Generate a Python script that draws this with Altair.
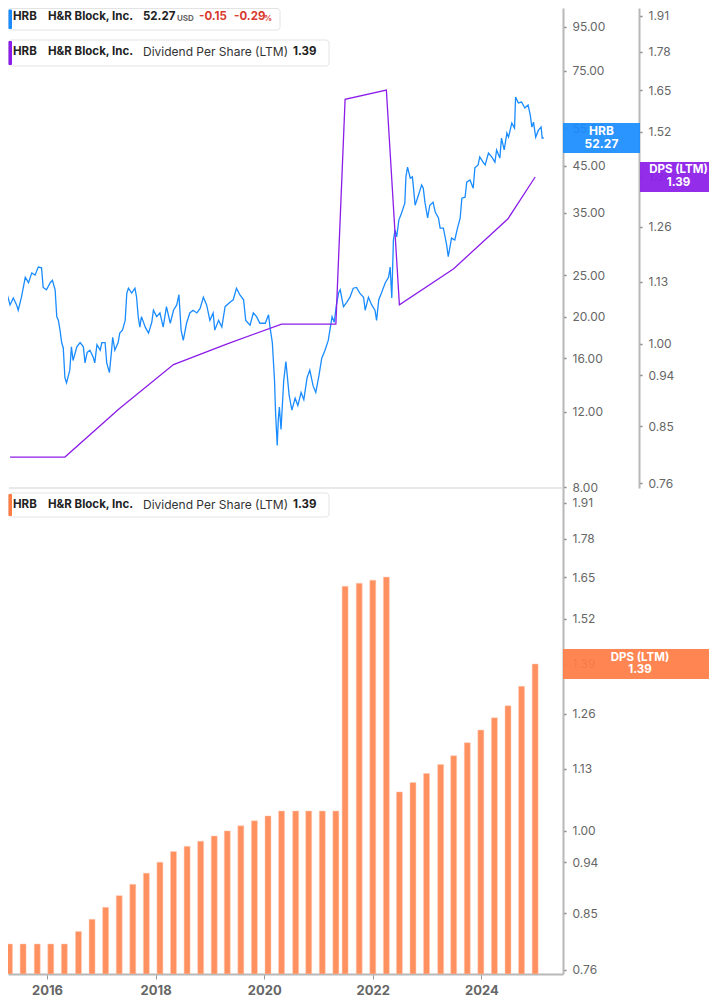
import altair as alt
import pandas as pd

# ---------------- data ----------------
price_t = [2015.13, 2015.20, 2015.26, 2015.32, 2015.38, 2015.44, 2015.47, 2015.53, 2015.60, 2015.66,
           2015.72, 2015.78, 2015.84, 2015.90, 2015.93, 2015.99, 2016.06, 2016.10, 2016.15, 2016.18,
           2016.21, 2016.24, 2016.27, 2016.30, 2016.33, 2016.36, 2016.42, 2016.45, 2016.48, 2016.55,
           2016.61, 2016.67, 2016.70, 2016.74, 2016.79, 2016.85, 2016.88, 2016.92, 2016.98, 2017.01,
           2017.07, 2017.10, 2017.15, 2017.19, 2017.21, 2017.25, 2017.31, 2017.34, 2017.39, 2017.44,
           2017.47, 2017.50, 2017.56, 2017.62, 2017.65, 2017.68, 2017.71, 2017.74, 2017.81, 2017.87,
           2017.93, 2017.96, 2018.02, 2018.08, 2018.14, 2018.20, 2018.27, 2018.33, 2018.39, 2018.43,
           2018.47, 2018.51, 2018.57, 2018.63, 2018.69, 2018.76, 2018.82, 2018.88, 2018.94, 2019.00,
           2019.06, 2019.09, 2019.16, 2019.22, 2019.28, 2019.37, 2019.43, 2019.49, 2019.55, 2019.62,
           2019.66, 2019.74, 2019.80, 2019.86, 2019.92, 2020.02, 2020.08, 2020.11, 2020.15, 2020.19,
           2020.21, 2020.24, 2020.26, 2020.28, 2020.31, 2020.36, 2020.40, 2020.46, 2020.51, 2020.57,
           2020.62, 2020.68, 2020.73, 2020.79, 2020.84, 2020.90, 2020.95, 2021.01, 2021.06, 2021.12,
           2021.18, 2021.21, 2021.25, 2021.29, 2021.33, 2021.37, 2021.40, 2021.46, 2021.52, 2021.58,
           2021.64, 2021.70, 2021.76, 2021.83, 2021.86, 2021.92, 2021.98, 2022.04, 2022.07, 2022.11,
           2022.16, 2022.23, 2022.29, 2022.32, 2022.35, 2022.38, 2022.41, 2022.44, 2022.48, 2022.53,
           2022.59, 2022.61, 2022.64, 2022.69, 2022.73, 2022.78, 2022.84, 2022.90, 2022.93, 2022.96,
           2023.01, 2023.05, 2023.11, 2023.15, 2023.21, 2023.24, 2023.30, 2023.36, 2023.39, 2023.45,
           2023.51, 2023.56, 2023.61, 2023.64, 2023.70, 2023.73, 2023.79, 2023.85, 2023.88, 2023.94,
           2023.97, 2024.04, 2024.07, 2024.13, 2024.19, 2024.25, 2024.28, 2024.34, 2024.37, 2024.42,
           2024.47, 2024.50, 2024.56, 2024.61, 2024.63, 2024.68, 2024.74, 2024.80, 2024.86, 2024.90,
           2024.93, 2024.96, 2025.00, 2025.05, 2025.10, 2025.12, 2025.15]
price_v = [24.0, 22.1, 22.7, 21.3, 22.1, 21.3, 20.7, 22.2, 24.7, 24.0,
           25.3, 25.0, 26.1, 26.0, 23.4, 23.1, 24.0, 24.3, 23.1, 20.0,
           19.6, 18.6, 17.4, 16.9, 14.4, 14.0, 15.0, 17.0, 15.8, 17.0,
           17.4, 17.0, 15.6, 16.5, 16.7, 16.1, 15.6, 17.2, 16.7, 17.4,
           17.4, 15.6, 14.8, 16.7, 17.9, 16.7, 17.4, 18.3, 18.6, 19.6,
           22.7, 23.3, 22.7, 23.3, 22.2, 20.0, 18.9, 20.0, 18.9, 18.3,
           19.4, 20.7, 20.0, 20.4, 18.9, 21.1, 19.3, 20.7, 21.3, 22.5,
           18.6, 17.6, 19.3, 20.4, 20.7, 20.4, 20.9, 22.2, 21.3, 19.6,
           20.4, 18.6, 19.6, 18.9, 21.1, 21.6, 21.9, 23.3, 22.5, 21.9,
           19.6, 19.1, 20.4, 20.0, 19.3, 19.3, 20.2, 18.8, 17.4, 14.2,
           11.9, 10.0, 11.5, 12.3, 10.9, 14.2, 15.7, 13.1, 12.1, 12.9,
           12.4, 13.3, 12.8, 14.4, 15.0, 13.8, 13.3, 14.6, 16.0, 16.7,
           17.6, 18.6, 20.0, 19.4, 21.3, 22.7, 23.1, 21.1, 21.6, 22.2,
           23.3, 23.4, 22.7, 22.2, 20.7, 22.2, 21.3, 20.7, 19.6, 21.9,
           22.7, 24.0, 24.7, 26.1, 22.1, 30.2, 31.9, 30.7, 33.6, 34.9,
           36.8, 42.4, 44.7, 42.1, 42.4, 36.4, 38.4, 40.6, 39.9, 37.0,
           34.0, 36.4, 37.0, 35.1, 34.0, 32.2, 32.2, 29.4, 27.6, 30.5,
           30.2, 32.2, 34.0, 37.8, 38.0, 41.2, 41.7, 39.9, 44.5, 45.2,
           47.2, 45.7, 45.2, 48.2, 47.2, 45.9, 49.0, 46.9, 52.2, 49.0,
           53.7, 52.5, 56.6, 55.1, 65.1, 63.1, 63.4, 61.4, 62.4, 59.1,
           55.4, 56.9, 52.5, 54.5, 55.4, 52.2, 52.27]

dps_t = [2015.32, 2016.33, 2017.33, 2018.33, 2019.32, 2020.32, 2021.32, 2021.49,
         2022.25, 2022.49, 2023.49, 2024.49, 2024.99]
dps_v = [0.80, 0.80, 0.88, 0.96, 1.00, 1.04, 1.04, 1.62, 1.65, 1.08, 1.16, 1.28, 1.39]

bar_t = [2015.31, 2015.56, 2015.82, 2016.07, 2016.32, 2016.58, 2016.83, 2017.08, 2017.33, 2017.58,
         2017.83, 2018.08, 2018.33, 2018.58, 2018.83, 2019.08, 2019.32, 2019.57, 2019.82, 2020.07,
         2020.32, 2020.58, 2020.82, 2021.07, 2021.32, 2021.49, 2021.75, 2022.00, 2022.25, 2022.49,
         2022.74, 2022.99, 2023.25, 2023.49, 2023.74, 2023.99, 2024.24, 2024.49, 2024.74, 2024.99]
bar_v = [0.80, 0.80, 0.80, 0.80, 0.80, 0.82, 0.84, 0.86, 0.88, 0.90,
         0.92, 0.94, 0.96, 0.97, 0.98, 0.99, 1.00, 1.01, 1.02, 1.03,
         1.04, 1.04, 1.04, 1.04, 1.04, 1.62, 1.63, 1.64, 1.65, 1.08,
         1.10, 1.12, 1.14, 1.16, 1.19, 1.22, 1.25, 1.28, 1.33, 1.39]

year_ticks = [2016, 2018, 2020, 2022, 2024]
price_ticks = [8, 12, 16, 20, 25, 35, 45, 55, 75, 95]
dps_ticks = [0.76, 0.85, 0.94, 1.00, 1.13, 1.26, 1.39, 1.52, 1.65, 1.78, 1.91]

ticker = "HRB"
company = "H&R Block, Inc."
metric = "Dividend Per Share (LTM)"
metric_short = "DPS (LTM)"
currency = "USD"
change_abs = "-0.15"
change_pct = "-0.29"

# ---------------- layout / style ----------------
W = 555
H_TOP = 480
H_BOT = 486
X_DOMAIN = [2015.282, 2025.503]
PRICE_DOMAIN = [7.96, 105.1]
DPS_TOP_DOMAIN = [0.7526, 1.940]
DPS_BOT_DOMAIN = [0.754, 1.967]

BLUE = "#1a8cff"
PURPLE = "#8c1de8"
BAR = "#ff9060"
BAR_EDGE = "#ffcdb6"
ORANGE_BOX = "#ff7d45"
RED = "#d93a2f"
DARK = "#222222"
AXIS_GREY = "#b8b8b8"
LABEL_GREY = "#666666"
FONT = "Inter"

xs = alt.Scale(domain=X_DOMAIN, nice=False, zero=False, padding=0)
price_scale = alt.Scale(type="log", domain=PRICE_DOMAIN, nice=False)
dps_top_scale = alt.Scale(type="log", domain=DPS_TOP_DOMAIN, nice=False)
dps_bot_scale = alt.Scale(type="log", domain=DPS_BOT_DOMAIN, nice=False)


def yaxis(values, offset=0):
    return alt.Axis(orient="right", values=values, format=".2f", offset=offset,
                    tickSize=3, tickWidth=1.5, tickColor="#888888",
                    domainColor=AXIS_GREY, domainWidth=2,
                    labelColor=LABEL_GREY, labelFontSize=12, labelFont=FONT,
                    labelPadding=6, grid=False, title=None)


PRICE_AXIS = yaxis(price_ticks)
DPS_TOP_AXIS = yaxis(dps_ticks, offset=76)
DPS_BOT_AXIS = yaxis(dps_ticks)

x_axis = alt.Axis(values=year_ticks, format="d", tickSize=5, tickColor="#999999",
                  domainColor=AXIS_GREY, domainWidth=2, labelColor=LABEL_GREY,
                  labelFontSize=13, labelFontWeight="bold", labelFont=FONT,
                  labelPadding=5, labelFlush=False, grid=False, title=None)

ONE = pd.DataFrame({"k": [0]})


def txt(s, x, y, size=11.5, weight="bold", color=DARK):
    return alt.Chart(ONE).mark_text(text=s, align="left", baseline="middle", fontSize=size,
                                    fontWeight=weight, color=color, font=FONT).encode(
        x=alt.value(x), y=alt.value(y))


def box(x1, x2, y1, y2, bar_color):
    frame = alt.Chart(ONE).mark_rect(fill="white", stroke="#e3e3e3", strokeWidth=1,
                                     cornerRadius=3).encode(
        x=alt.value(x1), x2=alt.value(x2), y=alt.value(y1), y2=alt.value(y2))
    stripe = alt.Chart(ONE).mark_rect(fill=bar_color, cornerRadius=1).encode(
        x=alt.value(x1), x2=alt.value(x1 + 3.5), y=alt.value(y1 + 1), y2=alt.value(y2 - 1))
    return [frame, stripe]


def rect_path(left, right, half_h):
    return f"M{left},{-half_h}L{right},{-half_h}L{right},{half_h}L{left},{half_h}Z"


def marker(df, scale, axis, cx, path, size, color, line1, dy1, dy2, fsize=11.5):
    y_enc = alt.Y("v:Q", scale=scale, axis=axis)
    shape = alt.Chart(df).mark_point(shape=path, size=size, filled=True, color=color,
                                     opacity=0.93, strokeWidth=0).encode(
        x=alt.value(cx), y=y_enc)
    t1 = alt.Chart(df).mark_text(text=line1, color="white", fontWeight="bold", fontSize=fsize,
                                 font=FONT, dy=dy1).encode(x=alt.value(cx), y=y_enc)
    t2 = alt.Chart(df).mark_text(color="white", fontWeight="bold", fontSize=fsize,
                                 font=FONT, dy=dy2).encode(
        x=alt.value(cx), y=y_enc, text=alt.Text("v:Q", format=".2f"))
    return [shape, t1, t2]


price_df = pd.DataFrame({"t": price_t, "p": price_v})
dps_df = pd.DataFrame({"t": dps_t, "d": dps_v})
bar_df = pd.DataFrame({"t": bar_t, "d": bar_v})
last_price = pd.DataFrame({"v": [price_v[-1]]})
last_dps = pd.DataFrame({"v": [bar_v[-1]]})

# ---------------- top panel ----------------
price_line = alt.Chart(price_df).mark_line(color=BLUE, strokeWidth=1.3, clip=True).encode(
    x=alt.X("t:Q", scale=xs, axis=None),
    y=alt.Y("p:Q", scale=price_scale, axis=PRICE_AXIS))
price_layer = alt.layer(price_line, *marker(last_price, price_scale, PRICE_AXIS, 593.5,
                                            rect_path(-1, 1, 0.3896), 5929, BLUE,
                                            ticker, -7, 6, fsize=12))

dps_line = alt.Chart(dps_df).mark_line(color=PURPLE, strokeWidth=1.3, clip=True).encode(
    x=alt.X("t:Q", scale=xs, axis=None),
    y=alt.Y("d:Q", scale=dps_top_scale, axis=DPS_TOP_AXIS))
dps_layer = alt.layer(dps_line, *marker(last_dps, dps_top_scale, DPS_TOP_AXIS, 670.5,
                                        rect_path(-1, 0.792, 0.3896), 5929, PURPLE,
                                        metric_short, -6.5, 6.5))

sep = alt.Chart(ONE).mark_rule(color="#e2e2e2", strokeWidth=1.5).encode(
    x=alt.value(1), x2=alt.value(W), y=alt.value(H_TOP))

legend_top = (box(0.5, 272, 0.5, 22, BLUE)
              + [txt(ticker, 5, 9), txt(company, 40, 9), txt(f"{price_v[-1]:.2f}", 135, 9),
                 txt(currency, 169, 11, size=8, color="#666666"),
                 txt(change_abs, 191, 9, color=RED), txt(change_pct, 226, 9, color=RED),
                 txt("%", 256, 11, size=8, color=RED)]
              + box(0.5, 321, 32, 58, PURPLE)
              + [txt(ticker, 5, 44), txt(company, 40, 44),
                 txt(metric, 135, 44, size=12, weight="normal", color="#333333"),
                 txt(f"{dps_v[-1]:.2f}", 285, 44)])

top = alt.layer(price_layer, dps_layer, sep, *legend_top).resolve_scale(
    y="independent").properties(width=W, height=H_TOP)

# ---------------- bottom panel ----------------
bars = alt.Chart(bar_df).mark_bar(width=6, color=BAR, stroke=BAR_EDGE, strokeWidth=0.5,
                                  clip=True).encode(
    x=alt.X("t:Q", scale=xs, axis=x_axis),
    y=alt.Y("d:Q", scale=dps_bot_scale, axis=DPS_BOT_AXIS),
    y2=alt.datum(DPS_BOT_DOMAIN[0]))

legend_bot = (box(0.5, 321, 5, 29, ORANGE_BOX)
              + [txt(ticker, 5, 17), txt(company, 40, 17),
                 txt(metric, 135, 17, size=12, weight="normal", color="#333333"),
                 txt(f"{bar_v[-1]:.2f}", 285, 17)])

bottom = alt.layer(bars, *marker(last_dps, dps_bot_scale, DPS_BOT_AXIS, 632,
                                 rect_path(-1, 0.896, 0.1948), 23716, ORANGE_BOX,
                                 metric_short, -6, 6.5),
                   *legend_bot).properties(width=W, height=H_BOT)

chart = (alt.vconcat(top, bottom, spacing=0, bounds="flush")
         .resolve_scale(y="independent")
         .properties(padding=0)
         .configure(font=FONT)
         .configure_view(stroke=None))

chart.save("out.html", embed_options={"renderer": "svg", "actions": False})
